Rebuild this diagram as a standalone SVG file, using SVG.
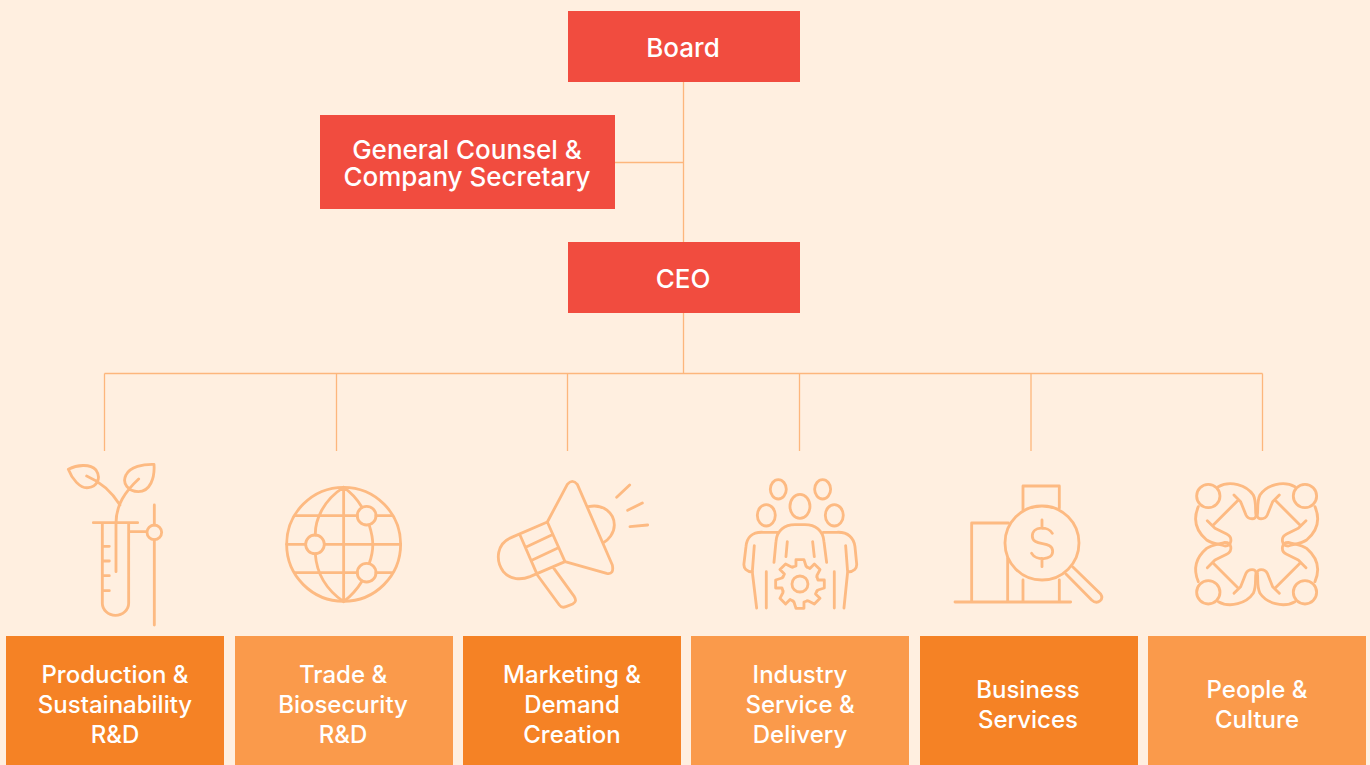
<svg xmlns="http://www.w3.org/2000/svg" width="1370" height="765" viewBox="0 0 1370 765">
<style>
.bg{fill:#FFEFE0}
.red{fill:#F14C3F}
.dk{fill:#F58225}
.lt{fill:#FA9A4B}
.conn{fill:none;stroke:#FDB67C;stroke-width:1.300}
.ic{fill:none;stroke:#FDBA82;stroke-width:8.500;stroke-linecap:round;stroke-linejoin:round}
.t{font-family:"Inter","Liberation Sans",sans-serif;font-weight:500;fill:#fff;text-anchor:middle}
.a{font-size:26px}
.b{font-size:24px}
</style>
<defs>
<path id="tooth" d="M939 321L948 318L948 299H972L978 318L981 321"/>
<g id="person">
<circle cx="805" cy="108" r="35"/>
<path d="M835 80C870 60 920 75 940 105C950 125 945 150 948 165C950 180 925 180 918 165L902 125L882 105M895 120L820 195M802 182L825 205L860 222C880 232 875 258 855 258C835 252 815 250 800 240C765 210 760 175 775 140"/>
</g>
</defs>
<rect class="bg" width="1370" height="765"/>
<g id="connectors" class="conn">
<path d="M683.500 82V373.500M615 162.500H683.500M104.500 373.500H1262.500M104.500 373.500V451M336.500 373.500V451M567.500 373.500V451M799.500 373.500V451M1031 373.500V451M1262.500 373.500V451"/>
</g>
<g id="board"><rect class="red" x="568" y="11" width="232" height="71"/><text class="t a" x="683" y="57">Board</text></g>
<g id="counsel"><rect class="red" x="320" y="115" width="295" height="94"/><text class="t a" x="467" y="159">General Counsel &amp;</text><text class="t a" x="467" y="186">Company Secretary</text></g>
<g id="ceo"><rect class="red" x="568" y="242" width="232" height="71"/><text class="t a" x="683" y="288">CEO</text></g>
<g id="icon-production" class="ic" transform="translate(40 450) scale(.3333)">
<path d="M85 58C110 45 150 40 168 60C185 85 170 110 145 113C120 117 95 85 85 58ZM140 78C180 95 215 125 240 165M342 43C345 85 330 125 295 125C265 125 245 100 258 75C270 50 310 42 342 43ZM296 87C255 125 228 165 228 220V365M160 218H293M187 218V460A39.500 36 0 0 0 266 460V218M187 289H208M187 333H208M187 377H208M187 422H208M266 245H320M343 165V225M343 270V525"/>
<circle cx="343" cy="247" r="22"/>
</g>
<g id="icon-trade" class="ic" transform="translate(40 450) scale(.3333)">
<circle cx="911" cy="283" r="171"/>
<path d="M911 112V455M740 283H797M855 283H1082M765 197H952M1008 197H1055M765 368H952M1008 368H1055M911 112C850 150 825 210 826 255M826 312C830 370 860 420 911 455M911 112C930 125 950 145 965 170M988 226C1002 270 1002 300 988 340M965 395C950 420 930 440 911 455"/>
<circle cx="825" cy="283" r="28"/><circle cx="980" cy="197" r="28"/><circle cx="980" cy="368" r="28"/>
</g>
<g id="icon-marketing" class="ic" transform="translate(480 460) scale(.3333)">
<path d="M202 186L262 73Q277 55 292 73L397 315Q403 345 380 340L255 305ZM325 140C370 130 403 160 403 195C403 220 385 240 370 248M202 186L95 232C50 250 45 300 70 335C90 360 125 360 150 350L255 305M120 225L170 340M137 262L215 225M157 300L232 265M172 345L238 435Q245 445 258 440L278 432Q292 425 283 410L220 323M410 112L449 75M443 151L487 129M450 200L503 195"/>
</g>
<g id="icon-industry" class="ic" transform="translate(480 460) scale(.3333)">
<ellipse cx="895" cy="88" rx="24" ry="29"/><ellipse cx="1028" cy="88" rx="24" ry="29"/><ellipse cx="960" cy="139" rx="30" ry="36"/><ellipse cx="859" cy="166" rx="27" ry="32"/><ellipse cx="1063" cy="166" rx="27" ry="32"/>
<path d="M882 307L888 245C890 210 915 194 945 194H975C1005 194 1030 210 1032 245L1040 307M893 217H850C815 215 800 235 798 260L792 310C790 325 800 335 818 336M823 257L817 336L830 444M859 335V444M1030 217H1070C1105 215 1122 235 1125 260L1130 310C1132 325 1122 335 1103 336M1097 257L1103 336L1092 444M1063 335V444M922 245L918 290M998 245L1003 290"/>
<circle cx="960" cy="372" r="24"/>
<use href="#tooth"/><use href="#tooth" transform="rotate(45 960 372)"/><use href="#tooth" transform="rotate(90 960 372)"/><use href="#tooth" transform="rotate(135 960 372)"/><use href="#tooth" transform="rotate(180 960 372)"/><use href="#tooth" transform="rotate(225 960 372)"/><use href="#tooth" transform="rotate(270 960 372)"/><use href="#tooth" transform="rotate(315 960 372)"/>
</g>
<g id="icon-business" class="ic" transform="translate(940 460) scale(.3333)">
<path d="M95 426V189H205M203 295V426M249 150V78H358V145M249 360V426M358 360V426M45 426H392M398 320L482 402Q490 415 480 423Q468 432 455 420L378 342M306 180V205M306 295V320M337 220C325 198 277 198 277 228C277 262 338 240 338 274C338 302 287 302 275 280"/>
<circle cx="306" cy="249" r="111"/>
</g>
<g id="icon-people" class="ic" transform="translate(940 460) scale(.3333)">
<use href="#person"/>
<use href="#person" transform="matrix(-1 0 0 1 1900 0)"/>
<use href="#person" transform="matrix(1 0 0 -1 0 505)"/>
<use href="#person" transform="matrix(-1 0 0 -1 1900 505)"/>
</g>
<g id="production"><rect class="dk" x="6" y="636" width="218" height="129"/><text class="t b" x="115" y="683">Production &amp;</text><text class="t b" x="115" y="713">Sustainability</text><text class="t b" x="115" y="743">R&amp;D</text></g>
<g id="trade"><rect class="lt" x="235" y="636" width="218" height="129"/><text class="t b" x="343" y="683">Trade &amp;</text><text class="t b" x="343" y="713">Biosecurity</text><text class="t b" x="343" y="743">R&amp;D</text></g>
<g id="marketing"><rect class="dk" x="463" y="636" width="218" height="129"/><text class="t b" x="572" y="683">Marketing &amp;</text><text class="t b" x="572" y="713">Demand</text><text class="t b" x="572" y="743">Creation</text></g>
<g id="industry"><rect class="lt" x="691" y="636" width="218" height="129"/><text class="t b" x="800" y="683">Industry</text><text class="t b" x="800" y="713">Service &amp;</text><text class="t b" x="800" y="743">Delivery</text></g>
<g id="business"><rect class="dk" x="920" y="636" width="218" height="129"/><text class="t b" x="1028" y="698">Business</text><text class="t b" x="1028" y="728">Services</text></g>
<g id="people"><rect class="lt" x="1148" y="636" width="218" height="129"/><text class="t b" x="1257" y="698">People &amp;</text><text class="t b" x="1257" y="728">Culture</text></g>
</svg>
